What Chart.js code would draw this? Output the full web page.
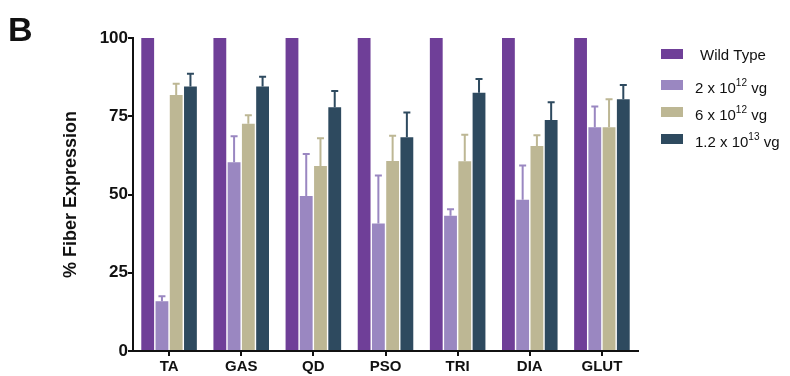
<!DOCTYPE html>
<html>
<head>
<meta charset="utf-8">
<script src="https://cdn.jsdelivr.net/npm/chart.js@4/dist/chart.umd.min.js"></script>
<style>
  html, body { margin: 0; padding: 0; background: #fff; }
  #wrap { position: relative; width: 790px; height: 376px; }
</style>
</head>
<body>
<div id="wrap"><canvas id="c" width="790" height="376"></canvas></div>
<script>
// Muscle groups and fibre expression (% of wild type), mean and upper SEM
const muscles = ['TA', 'GAS', 'QD', 'PSO', 'TRI', 'DIA', 'GLUT'];
const seriesNames = ['Wild Type', '2 x 10^12 vg', '6 x 10^12 vg', '1.2 x 10^13 vg'];
const seriesColors = ['#6f3f98', '#9a87c1', '#bdb794', '#2e4a5f'];

const wildType  = [100, 100, 100, 100, 100, 100, 100];
const dose2e12  = [15.9, 60.3, 49.5, 40.7, 43.2, 48.3, 71.5];
const dose6e12  = [81.8, 72.6, 59.1, 60.7, 60.6, 65.5, 71.5];
const dose12e13 = [84.5, 84.5, 77.9, 68.3, 82.5, 73.8, 80.4];

const err2e12  = [1.6, 8.3, 13.4, 15.4, 2.1, 11.0, 6.6];
const err6e12  = [3.6, 2.7, 8.9, 8.1, 8.5, 3.4, 8.9];
const err12e13 = [4.1, 3.1, 5.2, 7.9, 4.4, 5.7, 4.6];

const yTicks = [0, 25, 50, 75, 100];
const yTitle = '% Fiber Expression';
const panelLetter = 'B';

const FONT = '"Liberation Sans", Arial, Helvetica, sans-serif';
const INK = '#111111';
Chart.defaults.font.family = FONT;
Chart.defaults.color = INK;

// Upward-only error whiskers with a cap, in each bar's own colour
const errorBars = {
  id: 'errorBars',
  afterDatasetsDraw(chart) {
    const ctx = chart.ctx;
    const y = chart.scales.y;
    chart.data.datasets.forEach((ds, i) => {
      if (!ds.errors) return;
      const meta = chart.getDatasetMeta(i);
      meta.data.forEach((bar, j) => {
        const e = ds.errors[j];
        if (e == null) return;
        const yTop = y.getPixelForValue(ds.data[j] + e);
        ctx.save();
        ctx.strokeStyle = ds.backgroundColor;
        ctx.lineWidth = 2;
        ctx.beginPath();
        ctx.moveTo(bar.x, bar.y);
        ctx.lineTo(bar.x, yTop);
        ctx.moveTo(bar.x - 3.5, yTop);
        ctx.lineTo(bar.x + 3.5, yTop);
        ctx.stroke();
        ctx.restore();
      });
    });
  }
};

// Legend with superscript exponents, plus the panel letter
function drawRich(ctx, text, x, baseline) {
  const parts = text.split(/\^(\d+)/);
  let cx = x;
  parts.forEach((p, k) => {
    if (k % 2 === 1) {
      ctx.font = '10px ' + FONT;
      ctx.fillText(p, cx, baseline - 7);
    } else {
      ctx.font = '15px ' + FONT;
      ctx.fillText(p, cx, baseline);
    }
    cx += ctx.measureText(p).width;
  });
}

const sideLegend = {
  id: 'sideLegend',
  afterDraw(chart) {
    const ctx = chart.ctx;
    const rows = [54, 85, 112, 139];
    ctx.save();
    ctx.fillStyle = INK;
    ctx.textBaseline = 'alphabetic';
    ctx.textAlign = 'left';
    chart.data.datasets.forEach((ds, i) => {
      const cy = rows[i];
      ctx.fillStyle = ds.backgroundColor;
      ctx.fillRect(661, cy - 5, 22, 10);
      ctx.fillStyle = INK;
      drawRich(ctx, ds.label, i === 0 ? 700 : 695, cy + (i === 0 ? 6 : 8));
    });
    ctx.font = 'bold 34px ' + FONT;
    ctx.fillText(panelLetter, 8, 41);
    ctx.restore();
  }
};

const sets = [wildType, dose2e12, dose6e12, dose12e13];
const errs = [null, err2e12, err6e12, err12e13];

new Chart(document.getElementById('c'), {
  type: 'bar',
  data: {
    labels: muscles,
    datasets: sets.map((d, i) => ({
      label: seriesNames[i],
      data: d,
      errors: errs[i],
      backgroundColor: seriesColors[i],
      borderWidth: 0,
      categoryPercentage: 0.79,
      barPercentage: 0.9
    }))
  },
  options: {
    responsive: false,
    animation: false,
    devicePixelRatio: 1,
    layout: { padding: { left: 60, right: 152, top: 38, bottom: 0 } },
    plugins: {
      legend: { display: false },
      tooltip: { enabled: false }
    },
    scales: {
      x: {
        offset: true,
        border: { display: true, color: INK, width: 2 },
        grid: { offset: false, drawOnChartArea: false, drawTicks: true, tickLength: 5, color: INK, lineWidth: 2 },
        ticks: { color: INK, font: { size: 15, weight: 'bold' }, padding: 2, maxRotation: 0 },
        afterFit: s => { s.height = 25; }
      },
      y: {
        min: 0,
        max: 100,
        border: { display: true, color: INK, width: 2 },
        grid: { drawOnChartArea: false, drawTicks: true, tickLength: 5, color: INK, lineWidth: 2 },
        ticks: { color: INK, font: { size: 17, weight: 'bold' }, padding: 0 },
        afterBuildTicks: s => { s.ticks = yTicks.map(v => ({ value: v })); },
        title: { display: true, text: yTitle, color: INK, font: { size: 18, weight: 'bold' }, padding: 0 },
        afterFit: s => { s.width = 73; }
      }
    }
  },
  plugins: [errorBars, sideLegend]
});
</script>
</body>
</html>
